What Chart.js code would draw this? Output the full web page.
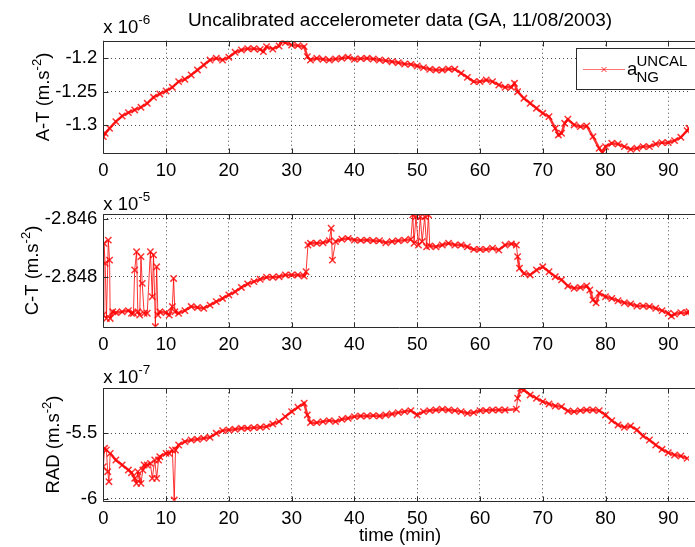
<!DOCTYPE html>
<html><head><meta charset="utf-8">
<script src="https://cdn.jsdelivr.net/npm/chart.js@4/dist/chart.umd.min.js"></script>
<style>
html,body{margin:0;padding:0;background:#fff;}
#wrap{position:relative;width:695px;height:547px;overflow:hidden;background:#fff;}
canvas{position:absolute;left:0;top:0;}
</style></head><body>
<div id="wrap">
<canvas id="c1" width="695" height="547"></canvas>
<canvas id="c2" width="695" height="547"></canvas>
<canvas id="c3" width="695" height="547"></canvas>
</div>
<script>
// ---- texts ----
const titleText = 'Uncalibrated accelerometer data (GA, 11/08/2003)';
const xLabelText = 'time (min)';
const legendBase = 'a', legendSup = 'UNCAL', legendSub = 'NG';

// ---- x axis ----
const xTicks = [0, 10, 20, 30, 40, 50, 60, 70, 80, 90];
const xMin = 0, xMax = 93.3;

// ---- A-T series (x 1e-6 m.s^-2) ----
const atTime = [0,0.3,1,2,3,4,5,6,7,8,9,10,11,12,13,14,15,16,17,18,19,20,21,22,23,24,25,25.5,26,27,28,28.5,29,30,31,32,32.5,33,34,35,36,37,38,39,40,41,42,43,44,45,46,47,48,49,50,51,52,53,54,55,56,57,58,59,60,61,62,63,64,65,65.5,66,67,68,69,70,71,72,72.5,73,73.5,74,75,76,77,78,79,79.5,80,81,82,83,84,85,86,87,88,89,90,91,92,93,93.3];
const atValue = [-1.3169,-1.312,-1.3045,-1.2945,-1.2861,-1.2811,-1.2771,-1.2731,-1.2672,-1.2582,-1.2532,-1.2488,-1.2433,-1.2348,-1.2313,-1.2249,-1.2174,-1.2100,-1.2025,-1.2000,-1.2025,-1.1985,-1.1910,-1.1876,-1.1856,-1.1856,-1.1866,-1.1900,-1.1826,-1.1861,-1.1816,-1.1736,-1.1766,-1.1801,-1.1811,-1.1826,-1.1975,-1.2025,-1.2000,-1.2015,-1.2025,-1.2010,-1.2000,-1.1985,-1.2015,-1.2005,-1.2000,-1.2010,-1.2025,-1.2035,-1.2050,-1.2065,-1.2085,-1.2090,-1.2114,-1.2139,-1.2164,-1.2174,-1.2174,-1.2159,-1.2164,-1.2224,-1.2284,-1.2348,-1.2348,-1.2323,-1.2348,-1.2398,-1.2433,-1.2433,-1.2373,-1.2498,-1.2597,-1.2672,-1.2746,-1.2821,-1.2871,-1.3045,-1.3144,-1.3119,-1.2970,-1.2910,-1.2995,-1.3020,-1.3010,-1.3169,-1.3343,-1.3408,-1.3318,-1.3269,-1.3279,-1.3318,-1.3358,-1.3343,-1.3318,-1.3318,-1.3279,-1.3259,-1.3259,-1.3229,-1.3179,-1.3080,-1.3045];
const atTicks = [-1.3, -1.25, -1.2];

// ---- C-T series (x 1e-5 m.s^-2) ----
const ctTime = [0,0.1,0.3,0.5,0.8,1.0,1.1,1.5,2,3,4,4.5,4.8,5.0,5.3,5.5,5.8,6.0,6.2,6.5,7,7.5,7.8,8.0,8.3,8.5,8.7,9,10,10.5,11,11.2,11.4,12,13,14,15,16,17,18,19,20,21,22,23,24,25,26,27,28,29,30,31,32,32.3,32.6,33,34,35,36,36.3,36.5,37,38,39,40,41,42,43,44,45,46,47,48,49,49.3,49.5,49.8,50.2,50.5,50.8,51.2,51.5,51.8,52,53,54,55,56,57,58,59,60,61,62,63,64,65,65.8,66,66.3,67,68,69,70,71,72,73,74,75,76,77,77.5,78,78.5,79,80,81,82,83,84,85,86,87,88,89,90,90.5,91,92,93,93.3];
const ctValue = [-2.84932,-2.84685,-2.84754,-2.84944,-2.84674,-2.84743,-2.84944,-2.84921,-2.84924,-2.84921,-2.84917,-2.84926,-2.84926,-2.84777,-2.84714,-2.84921,-2.84932,-2.84731,-2.84823,-2.84926,-2.84926,-2.84714,-2.84869,-2.84725,-2.84972,-2.84766,-2.84932,-2.84921,-2.84924,-2.84932,-2.84903,-2.84806,-2.84921,-2.84926,-2.84917,-2.84903,-2.84906,-2.84909,-2.84898,-2.84886,-2.84875,-2.84863,-2.84852,-2.84837,-2.84825,-2.84817,-2.84809,-2.84802,-2.84802,-2.84800,-2.84794,-2.84794,-2.84794,-2.84798,-2.84783,-2.84691,-2.84685,-2.84685,-2.84683,-2.84676,-2.84633,-2.84743,-2.84679,-2.84671,-2.84668,-2.84674,-2.84675,-2.84674,-2.84676,-2.84676,-2.84683,-2.84679,-2.84676,-2.84674,-2.84671,-2.84587,-2.84685,-2.84593,-2.84691,-2.84593,-2.84679,-2.84593,-2.84697,-2.84587,-2.84694,-2.84697,-2.84691,-2.84685,-2.84691,-2.84691,-2.84697,-2.84706,-2.84706,-2.84706,-2.84702,-2.84708,-2.84691,-2.84687,-2.84691,-2.84731,-2.84771,-2.84789,-2.84794,-2.84777,-2.84766,-2.84783,-2.84800,-2.84811,-2.84832,-2.84840,-2.84837,-2.84832,-2.84846,-2.84880,-2.84890,-2.84857,-2.84869,-2.84875,-2.84883,-2.84890,-2.84894,-2.84901,-2.84901,-2.84903,-2.84909,-2.84917,-2.84926,-2.84936,-2.84929,-2.84924,-2.84924,-2.84921];
const ctTicks = [-2.848, -2.846];

// ---- RAD series (x 1e-7 m.s^-2) ----
const radTime = [0,0.2,0.5,0.7,0.9,1.1,2,3,4,4.5,5,5.3,5.5,6,6.3,6.5,7,7.5,7.8,8.2,8.5,8.8,9,10,10.5,11,11.3,11.5,12,13,14,15,16,17,18,19,20,21,22,23,24,25,26,27,28,29,30,31,32,32.5,33,34,35,36,37,38,39,40,41,42,43,44,45,46,47,48,49,50,51,52,53,54,55,56,57,58,59,60,61,62,63,64,65.8,66,66.5,67,68,69,70,71,72,73,74,75,76,77,78,79,80,81,82,83,84,85,86,87,88,89,90,91,92,93];
const radValue = [-5.7551,-5.6148,-5.6276,-5.7934,-5.8699,-5.6531,-5.7041,-5.7423,-5.7806,-5.8010,-5.8444,-5.8827,-5.7934,-5.8827,-5.7806,-5.7423,-5.7423,-5.7296,-5.8444,-5.7041,-5.8444,-5.7041,-5.6786,-5.6531,-5.6531,-5.6276,-6.0102,-5.6276,-5.5893,-5.5638,-5.5510,-5.5459,-5.5383,-5.5306,-5.5000,-5.4796,-5.4745,-5.4694,-5.4617,-5.4617,-5.4566,-5.4541,-5.4490,-5.4286,-5.4107,-5.3724,-5.3342,-5.3010,-5.2704,-5.3597,-5.4184,-5.4184,-5.4107,-5.4031,-5.4107,-5.3929,-5.3852,-5.3724,-5.3673,-5.3673,-5.3648,-5.3673,-5.3597,-5.3520,-5.3418,-5.3342,-5.3265,-5.3597,-5.3342,-5.3265,-5.3214,-5.3163,-5.3214,-5.3265,-5.3342,-5.3469,-5.3418,-5.3265,-5.3265,-5.3214,-5.3214,-5.3214,-5.3163,-5.2321,-5.1556,-5.1684,-5.2066,-5.2321,-5.2577,-5.2755,-5.2908,-5.2959,-5.3291,-5.3342,-5.3265,-5.3214,-5.3214,-5.3265,-5.3597,-5.4031,-5.4362,-5.4541,-5.4439,-5.4745,-5.5204,-5.5510,-5.5893,-5.6224,-5.6480,-5.6658,-5.6735,-5.6913];
const radTicks = [-6, -5.5];

const FONT = '"Liberation Sans", Arial, Helvetica, sans-serif';
const LINE = 'rgba(255,0,0,0.8)';
const LEG = 'rgba(255,0,0,0.55)';
const AXIS = '#2b2b2b';

function rich(ctx, x, y, parts) {
  let cx = x;
  for (const [t, s, dy] of parts) {
    ctx.font = s + 'px ' + FONT;
    ctx.fillText(t, cx, y + dy);
    cx += ctx.measureText(t).width;
  }
  return cx - x;
}
function richWidth(ctx, parts) {
  let w = 0;
  for (const [t, s] of parts) { ctx.font = s + 'px ' + FONT; w += ctx.measureText(t).width; }
  return w;
}

function makePanel(id, times, values, yMin, yMax, yTicks, top, bottom, deco) {
  const data = times.map((t, i) => ({x: t, y: values[i]}));
  const decoPlugin = {
    id: 'deco' + id,
    afterDraw(chart) {
      const ctx = chart.ctx, a = chart.chartArea;
      const xs = chart.scales.x, ys = chart.scales.y;
      ctx.save();
      ctx.strokeStyle = AXIS; ctx.lineWidth = 1;
      const L = Math.round(a.left) + 0.5, T = Math.round(a.top) + 0.5, B = Math.round(a.bottom) + 0.5;
      ctx.beginPath();
      ctx.moveTo(700, T); ctx.lineTo(L, T); ctx.lineTo(L, B); ctx.lineTo(700, B);
      ctx.stroke();
      ctx.beginPath();
      for (const v of xTicks) {
        const px = Math.round(xs.getPixelForValue(v)) + 0.5;
        ctx.moveTo(px, B); ctx.lineTo(px, B - 5);
        ctx.moveTo(px, T); ctx.lineTo(px, T + 5);
      }
      for (const v of yTicks) {
        const py = Math.round(ys.getPixelForValue(v)) + 0.5;
        ctx.moveTo(L, py); ctx.lineTo(L + 5, py);
      }
      ctx.stroke();
      ctx.fillStyle = '#000';
      ctx.textBaseline = 'alphabetic';
      ctx.textAlign = 'left';
      rich(ctx, a.left, deco.expY, [['x 10', 18.5, 0], [deco.exp, 13.5, -9]]);
      const parts = [[deco.ylabel + ' (m.s', 18.5, 0], ['-2', 13, -8], [')', 18.5, 0]];
      const w = richWidth(ctx, parts);
      ctx.save();
      ctx.translate(deco.ylabX, (a.top + a.bottom) / 2);
      ctx.rotate(-Math.PI / 2);
      rich(ctx, -w / 2, 0, parts);
      ctx.restore();
      if (deco.extra) deco.extra(chart, ctx);
      ctx.restore();
    }
  };
  return new Chart(document.getElementById(id), {
    type: 'line',
    data: { datasets: [{
      label: 'aNG UNCAL',
      data,
      borderColor: LINE,
      backgroundColor: LINE,
      borderWidth: 2.5,
      segment: {
        borderWidth: c => {
          const dx = Math.abs(c.p1.x - c.p0.x), dy = Math.abs(c.p1.y - c.p0.y);
          return dy > 3 * dx + 6 ? 1 : 2.5;
        }
      },
      pointStyle: 'crossRot',
      pointRadius: 4.5,
      pointBorderWidth: 1.5,
      tension: 0,
      fill: false
    }]},
    options: {
      responsive: false,
      animation: false,
      events: [],
      layout: { padding: { top: top, bottom: 547 - bottom - 30, left: 0, right: 0 } },
      plugins: { legend: { display: false }, tooltip: { enabled: false }, title: { display: false } },
      scales: {
        x: {
          type: 'linear', min: xMin, max: xMax,
          afterBuildTicks: s => { s.ticks = xTicks.map(v => ({value: v})); },
          afterFit: s => { s.height = 30; },
          ticks: { autoSkip: false, maxRotation: 0, padding: 7, color: '#000',
                   font: { family: FONT, size: 18.5 }, callback: v => String(v) },
          grid: { drawTicks: false, color: 'rgba(0,0,0,0.7)', lineWidth: 1 },
          border: { display: false, dash: [1, 3] }
        },
        y: {
          type: 'linear', min: yMin, max: yMax,
          afterBuildTicks: s => { s.ticks = yTicks.map(v => ({value: v})); },
          afterFit: s => { s.width = 103.3; },
          ticks: { autoSkip: false, padding: 6, color: '#000',
                   font: { family: FONT, size: 18.5 }, callback: v => String(+(+v).toFixed(6)) },
          grid: { drawTicks: false, color: 'rgba(0,0,0,0.7)', lineWidth: 1 },
          border: { display: false, dash: [1, 3] }
        }
      }
    },
    plugins: [decoPlugin]
  });
}

makePanel('c1', atTime, atValue, -1.3418, -1.1737, atTicks, 40.7, 153.3, {
  exp: '-6', expY: 33.3, ylabel: 'A-T', ylabX: 48.5,
  extra(chart, ctx) {
    ctx.font = '19px ' + FONT;
    ctx.textAlign = 'center';
    ctx.fillText(titleText, 400, 25.7);
    ctx.textAlign = 'left';
    ctx.fillStyle = '#fff';
    ctx.fillRect(576, 48, 130, 42);
    ctx.strokeStyle = AXIS; ctx.lineWidth = 1;
    ctx.strokeRect(576.5, 48.5, 130, 41);
    ctx.strokeStyle = LEG;
    ctx.beginPath(); ctx.moveTo(583, 69.5); ctx.lineTo(625, 69.5); ctx.stroke();
    ctx.strokeStyle = LINE;
    ctx.beginPath();
    ctx.moveTo(601.5, 67); ctx.lineTo(606.5, 72); ctx.moveTo(606.5, 67); ctx.lineTo(601.5, 72);
    ctx.stroke();
    ctx.fillStyle = '#000';
    ctx.font = '18.5px ' + FONT; ctx.fillText(legendBase, 627, 74.7);
    ctx.font = '15px ' + FONT;
    ctx.fillText(legendSup, 636.5, 66.3);
    ctx.fillText(legendSub, 636.5, 82.3);
  }
});
makePanel('c2', ctTime, ctValue, -2.849724, -2.84585, ctTicks, 214.3, 326.7, {
  exp: '-5', expY: 209.5, ylabel: 'C-T', ylabX: 38
});
makePanel('c3', radTime, radValue, -6.015, -5.156, radTicks, 388.3, 500.7, {
  exp: '-7', expY: 383, ylabel: 'RAD', ylabX: 58.5,
  extra(chart, ctx) {
    ctx.font = '18.5px ' + FONT;
    ctx.textAlign = 'center';
    ctx.fillText(xLabelText, 400, 541);
  }
});
</script>
</body></html>
